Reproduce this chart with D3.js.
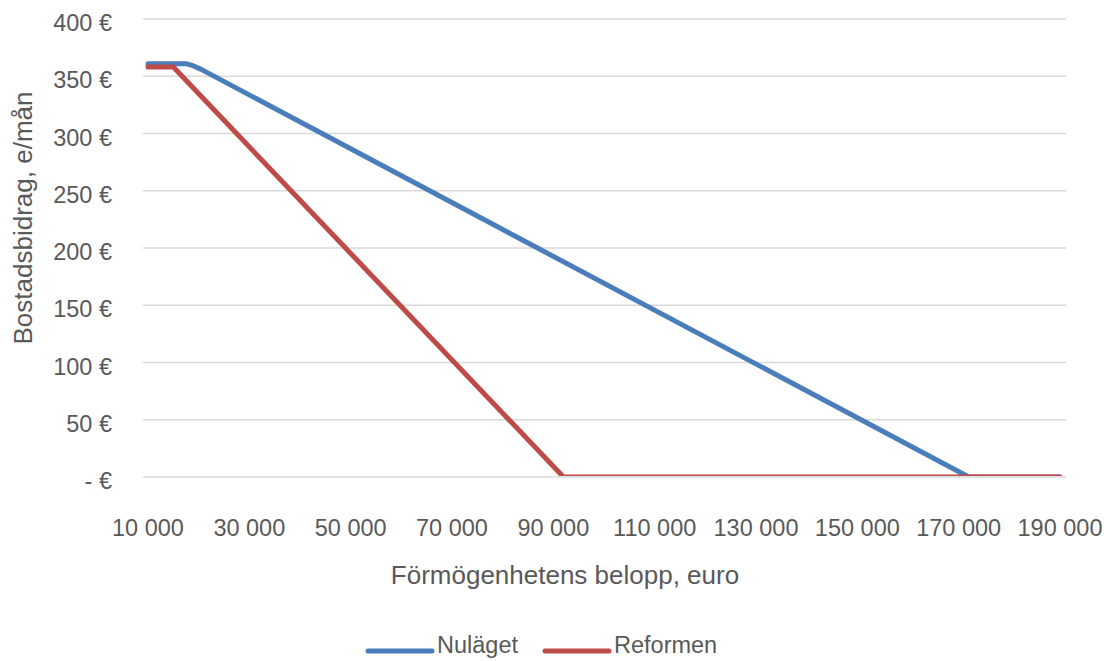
<!DOCTYPE html>
<html>
<head>
<meta charset="utf-8">
<script src="https://cdn.jsdelivr.net/npm/d3@7"></script>
<style>
  body { margin: 0; background: #fff; overflow: hidden; }
  svg { font-family: "Liberation Sans", Arial, sans-serif; }
</style>
</head>
<body>
<svg id="chart" width="1104" height="661"></svg>
<script>
const xTicks = [10000, 30000, 50000, 70000, 90000, 110000, 130000, 150000, 170000, 190000]
const yTicks = [0, 50, 100, 150, 200, 250, 300, 350, 400]
const nulaget = [[10000, 361], [17500, 361], [19000, 359], [20500, 356], [172000, 0], [190000, 0]]
const reformen = [[10000, 358], [15000, 358], [92000, 0], [190000, 0]]
const seriesNames = ['Nuläget', 'Reformen']
const seriesColors = ['#4a7ebb', '#be4b48']

const svg = d3.select('#chart')
const textColor = '#595959'

const x = d3.scaleLinear().domain([10000, 190000]).range([148, 1060])
const y = d3.scaleLinear().domain([0, 400]).range([477, 19])

const fmtX = d => d3.format(',')(d).replace(/,/g, ' ')
const fmtY = d => d === 0 ? '- €' : d + ' €'

// gridlines
svg.append('g')
    .selectAll('line')
    .data(yTicks)
    .join('line')
    .attr('x1', 143)
    .attr('x2', 1066)
    .attr('y1', d => y(d))
    .attr('y2', d => y(d))
    .attr('stroke', '#d9d9d9')
    .attr('stroke-width', 1.3)

// y labels
svg.append('g')
    .selectAll('text')
    .data(yTicks)
    .join('text')
    .attr('x', 112)
    .attr('y', d => y(d) + 6)
    .attr('text-anchor', 'end')
    .attr('dominant-baseline', 'middle')
    .attr('fill', textColor)
    .style('font-size', '23.5px')
    .text(fmtY)

// x labels
svg.append('g')
    .selectAll('text')
    .data(xTicks)
    .join('text')
    .attr('x', d => x(d))
    .attr('y', 530)
    .attr('text-anchor', 'middle')
    .attr('dominant-baseline', 'middle')
    .attr('fill', textColor)
    .style('font-size', '23.5px')
    .text(fmtX)

// axis titles
svg.append('text')
    .attr('x', 565)
    .attr('y', 577)
    .attr('text-anchor', 'middle')
    .attr('dominant-baseline', 'middle')
    .attr('fill', textColor)
    .style('font-size', '26px')
    .text('Förmögenhetens belopp, euro')

svg.append('text')
    .attr('transform', 'translate(25,218) rotate(-90)')
    .attr('text-anchor', 'middle')
    .attr('dominant-baseline', 'middle')
    .attr('fill', textColor)
    .style('font-size', '26px')
    .text('Bostadsbidrag, e/mån')

// clip so the zero segments sit on the baseline
svg.append('clipPath')
    .attr('id', 'plotClip')
    .append('rect')
    .attr('x', 0)
    .attr('y', 0)
    .attr('width', 1104)
    .attr('height', 476)

const line = d3.line()
    .x(d => x(d[0]))
    .y(d => y(d[1]))

const plot = svg.append('g').attr('clip-path', 'url(#plotClip)')
plot.append('path')
    .datum(nulaget)
    .attr('d', line)
    .attr('fill', 'none')
    .attr('stroke', seriesColors[0])
    .attr('stroke-width', 5)
    .attr('stroke-linecap', 'round')
    .attr('stroke-linejoin', 'round')
plot.append('path')
    .datum(reformen)
    .attr('d', line)
    .attr('fill', 'none')
    .attr('stroke', seriesColors[1])
    .attr('stroke-width', 5)
    .attr('stroke-linecap', 'round')
    .attr('stroke-linejoin', 'round')

// legend
const legendX = [368, 545]
const legendY = 647
const legend = svg.append('g')
seriesNames.forEach((name, i) => {
    legend.append('line')
        .attr('x1', legendX[i])
        .attr('x2', legendX[i] + 64)
        .attr('y1', legendY + 4)
        .attr('y2', legendY + 4)
        .attr('stroke', seriesColors[i])
        .attr('stroke-width', 5)
        .attr('stroke-linecap', 'round')
    legend.append('text')
        .attr('x', legendX[i] + 69)
        .attr('y', legendY)
        .attr('dominant-baseline', 'middle')
        .attr('fill', textColor)
        .style('font-size', '23.5px')
        .text(name)
})
</script>
</body>
</html>
